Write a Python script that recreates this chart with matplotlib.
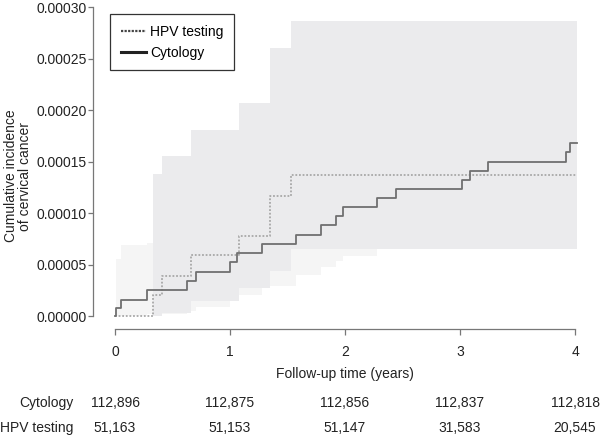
import numpy as np
import matplotlib.pyplot as plt
from matplotlib.lines import Line2D
from matplotlib.transforms import blended_transform_factory

plt.rcParams['font.family'] = ['Liberation Sans', 'DejaVu Sans']

# cumulative incidence, cytology arm (step times in years)
cyto_t = [0, 0.01, 0.05, 0.28, 0.63, 0.70, 1.00, 1.06, 1.28, 1.57,
          1.79, 1.92, 1.98, 2.28, 2.44, 3.02, 3.09, 3.24, 3.92, 3.96]
cyto_v = [0, 0.8e-5, 1.6e-5, 2.5e-5, 3.4e-5, 4.3e-5, 5.2e-5, 6.1e-5, 7.0e-5, 7.9e-5,
          8.8e-5, 9.7e-5, 10.6e-5, 11.5e-5, 12.3e-5, 13.2e-5, 14.1e-5, 15.0e-5, 15.9e-5, 16.8e-5]
cyto_lo = [0, 0, 0, 0.2e-5, 0.5e-5, 0.9e-5, 1.7e-5, 2.0e-5, 2.9e-5, 4.0e-5,
           4.8e-5, 5.3e-5, 5.8e-5, 6.6e-5, 7.3e-5, 8.0e-5, 8.6e-5, 9.2e-5, 9.8e-5, 10.4e-5]
cyto_hi = [0, 5.5e-5, 6.9e-5, 7.1e-5, 9.2e-5, 10.4e-5, 11.6e-5, 12.7e-5, 13.8e-5, 15.0e-5,
           16.0e-5, 17.0e-5, 18.0e-5, 19.0e-5, 20.0e-5, 21.0e-5, 22.0e-5, 23.0e-5, 24.0e-5, 25.0e-5]

# HPV testing arm
hpv_t = [0, 0.33, 0.41, 0.66, 1.08, 1.35, 1.53]
hpv_v = [0, 2.0e-5, 3.9e-5, 5.9e-5, 7.8e-5, 11.7e-5, 13.7e-5]
hpv_lo = [0, 0, 0.3e-5, 1.5e-5, 2.7e-5, 4.4e-5, 6.5e-5]
hpv_hi = [0, 13.8e-5, 15.5e-5, 18.1e-5, 20.7e-5, 26.0e-5, 28.7e-5]

t_end = 4.02

# numbers at risk
risk_years = [0, 1, 2, 3, 4]
risk_cyto = ['112,896', '112,875', '112,856', '112,837', '112,818']
risk_hpv = ['51,163', '51,153', '51,147', '31,583', '20,545']


def ext(t, v):
    return np.append(t, t_end), np.append(v, v[-1])


fig = plt.figure(figsize=(6, 4.36), dpi=100)
ax = fig.add_axes([0.155, 0.2454, 0.84, 0.745])

t, lo = ext(cyto_t, cyto_lo)
_, hi = ext(cyto_t, cyto_hi)
ax.fill_between(t, lo, hi, step='post', color='#f5f5f5', lw=0, zorder=1)
t, lo = ext(hpv_t, hpv_lo)
_, hi = ext(hpv_t, hpv_hi)
ax.fill_between(t, lo, hi, step='post', color='#ebebed', lw=0, zorder=2)

t, v = ext(hpv_t, hpv_v)
ax.step(t, v, where='post', color='#a8a8a8', lw=1.3, ls=(0, (1, 1)), zorder=3)
t, v = ext(cyto_t, cyto_v)
ax.step(t, v, where='post', color='#707070', lw=1.3, zorder=4)

ax.set_xlim(-0.1913, 4.191)
ax.set_ylim(-1.26e-5, 3.029e-4)
ax.set_xticks(risk_years)
ax.set_yticks([0, 0.00005, 0.0001, 0.00015, 0.0002, 0.00025, 0.0003])
ax.set_yticklabels(['0.00000', '0.00005', '0.00010', '0.00015', '0.00020', '0.00025', '0.00030'])
for s in ['top', 'right']:
    ax.spines[s].set_visible(False)
ax.spines['left'].set_bounds(0, 0.0003)
ax.spines['bottom'].set_bounds(0, 4)
for s in ['left', 'bottom']:
    ax.spines[s].set_color('#777777')
    ax.spines[s].set_linewidth(0.9)
ax.tick_params(axis='both', colors='#777777', labelcolor='#222222', labelsize=10, width=0.9)
ax.tick_params(axis='x', length=4.5, pad=7)
ax.tick_params(axis='y', length=3.6, pad=1)
ax.set_xlabel('Follow-up time (years)', fontsize=10, color='#222222', labelpad=6)

fig.text(0.03, 0.596, 'Cumulative incidence\nof cervical cancer', rotation=90,
         ha='center', va='center', fontsize=10, color='#222222', linespacing=1.05)

tr = blended_transform_factory(ax.transData, fig.transFigure)
fig.text(0.122, 0.0757, 'Cytology', ha='right', va='center', fontsize=10, color='#222222')
fig.text(0.122, 0.0183, 'HPV testing', ha='right', va='center', fontsize=10, color='#222222')
for yr, a, b in zip(risk_years, risk_cyto, risk_hpv):
    ax.text(yr, 0.0757, a, transform=tr, ha='center', va='center', fontsize=10, color='#222222')
    ax.text(yr, 0.0183, b, transform=tr, ha='center', va='center', fontsize=10, color='#222222')

handles = [Line2D([], [], color='#444444', lw=1.6, ls=(0, (1, 0.6))),
           Line2D([], [], color='#222222', lw=2.2)]
leg = ax.legend(handles, ['HPV testing', 'Cytology'], loc='upper left',
                bbox_to_anchor=(0.034, 0.969), borderaxespad=0, fontsize=10,
                fancybox=False, framealpha=1, edgecolor='#333333', handlelength=1.8,
                borderpad=0.75, labelspacing=0.5, handletextpad=0.35)
leg.get_frame().set_linewidth(0.9)

fig.savefig('out.png', dpi=100)
